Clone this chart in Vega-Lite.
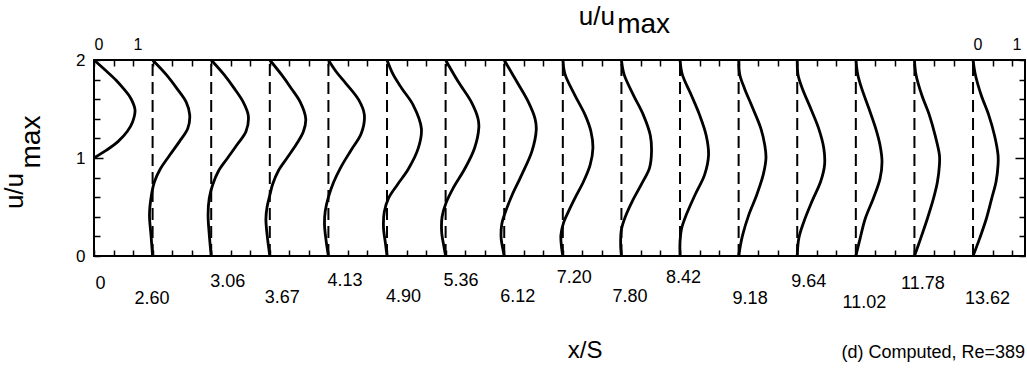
{
  "$schema": "https://vega.github.io/schema/vega-lite/v6.json",
  "width": 931,
  "height": 196,
  "autosize": {"type": "none"},
  "padding": {"left": 94, "top": 60, "right": 2, "bottom": 117},
  "background": "white",
  "config": {
    "view": {"stroke": "black", "strokeWidth": 2},
    "axis": {"domain": false, "grid": false, "tickColor": "black", "tickWidth": 1.5, "labelColor": "black", "labelFont": "Liberation Sans", "labelOverlap": false, "labelFlush": false},
    "text": {"font": "Liberation Sans", "color": "black"}
  },
  "resolve": {"axis": {"x": "independent", "y": "independent"}},
  "layer": [
    {
      "data": {"values": [{"s":1},{"s":2},{"s":3},{"s":4},{"s":5},{"s":6},{"s":7},{"s":8},{"s":9},{"s":10},{"s":11},{"s":12},{"s":13},{"s":14},{"s":15}]},
      "transform": [{"calculate": "datum.s*1.5", "as": "xp"}],
      "mark": {"type": "rule", "strokeDash": [12, 6], "strokeWidth": 2, "color": "black"},
      "encoding": {
        "x": {"field": "xp", "type": "quantitative", "scale": {"domain": [0, 23.83], "nice": false, "zero": false},
          "axis": {"orient": "bottom", "title": null,
            "values": [0,0.5,1,1.5,2,2.5,3,3.5,4,4.5,5,5.5,6,6.5,7,7.5,8,8.5,9,9.5,10,10.5,11,11.5,12,12.5,13,13.5,14,14.5,15,15.5,16,16.5,17,17.5,18,18.5,19,19.5,20,20.5,21,21.5,22,22.5,23,23.5],
            "tickSize": -6, "labelAlign": "center", "labelBaseline": "middle", "labelFontSize": 18,
            "labelPadding": {"expr": "datum.value % 1.5 == 0 ? 33 + [0,15,-2,14,-3,13,-3,13,-6,13,-6,15,-2,19,0,15][datum.value/1.5] : 33"},
            "labelOffset": {"expr": "datum.value % 1.5 == 0 ? [6,-1,16,12,16,16,15,13,11,8,3,11,11,8,8,14][datum.value/1.5] : 0"},
            "labelExpr": "datum.value % 1.5 == 0 ? ['0','2.60','3.06','3.67','4.13','4.90','5.36','6.12','7.20','7.80','8.42','9.18','9.64','11.02','11.78','13.62'][datum.value/1.5] : ''"
          }},
        "y": {"datum": 0, "type": "quantitative", "scale": {"domain": [0, 2], "nice": false, "zero": false},
          "axis": {"orient": "left", "title": null, "values": [0,0.2,0.4,0.6,0.8,1,1.2,1.4,1.6,1.8,2],
            "tickSize": {"expr": "datum.value == 1 ? -9 : -6"},
            "labelPadding": {"expr": "datum.value == 1 ? 18 : 15"}, "labelFontSize": 17,
            "labelExpr": "datum.value % 1 == 0 ? format(datum.value, 'd') : ''"}},
        "y2": {"datum": 2}
      }
    },
    {
      "data": {"values": [
        {"s":0,"y":2.0,"u":0},{"s":0,"y":1.9,"u":0.28},{"s":0,"y":1.796,"u":0.56},{"s":0,"y":1.71,"u":0.75},{"s":0,"y":1.61,"u":0.94},{"s":0,"y":1.49,"u":1.05},{"s":0,"y":1.37,"u":0.99},{"s":0,"y":1.27,"u":0.85},{"s":0,"y":1.17,"u":0.62},{"s":0,"y":1.08,"u":0.32},{"s":0,"y":1.0,"u":0},
        {"s":1,"y":2.0,"u":0},{"s":1,"y":1.85,"u":0.35},{"s":1,"y":1.71,"u":0.62},{"s":1,"y":1.57,"u":0.86},{"s":1,"y":1.44,"u":0.95},{"s":1,"y":1.30,"u":0.90},{"s":1,"y":1.17,"u":0.69},{"s":1,"y":1.03,"u":0.44},{"s":1,"y":0.89,"u":0.20},{"s":1,"y":0.76,"u":0.05},{"s":1,"y":0.62,"u":-0.03},{"s":1,"y":0.42,"u":-0.08},{"s":1,"y":0.21,"u":-0.04},{"s":1,"y":0,"u":0},
        {"s":2,"y":2.0,"u":0},{"s":2,"y":1.85,"u":0.33},{"s":2,"y":1.71,"u":0.59},{"s":2,"y":1.57,"u":0.82},{"s":2,"y":1.43,"u":0.95},{"s":2,"y":1.27,"u":0.89},{"s":2,"y":1.14,"u":0.67},{"s":2,"y":1.0,"u":0.42},{"s":2,"y":0.87,"u":0.19},{"s":2,"y":0.73,"u":0.04},{"s":2,"y":0.59,"u":-0.05},{"s":2,"y":0.42,"u":-0.08},{"s":2,"y":0.22,"u":-0.05},{"s":2,"y":0,"u":0},
        {"s":3,"y":2.0,"u":0},{"s":3,"y":1.85,"u":0.30},{"s":3,"y":1.71,"u":0.55},{"s":3,"y":1.57,"u":0.78},{"s":3,"y":1.40,"u":0.92},{"s":3,"y":1.27,"u":0.86},{"s":3,"y":1.14,"u":0.68},{"s":3,"y":1.0,"u":0.44},{"s":3,"y":0.87,"u":0.22},{"s":3,"y":0.73,"u":0.07},{"s":3,"y":0.62,"u":0},{"s":3,"y":0.5,"u":-0.07},{"s":3,"y":0.38,"u":-0.10},{"s":3,"y":0.22,"u":-0.07},{"s":3,"y":0,"u":0},
        {"s":4,"y":2.0,"u":0},{"s":4,"y":1.88,"u":0.20},{"s":4,"y":1.76,"u":0.45},{"s":4,"y":1.59,"u":0.78},{"s":4,"y":1.44,"u":0.92},{"s":4,"y":1.25,"u":0.84},{"s":4,"y":1.08,"u":0.58},{"s":4,"y":0.90,"u":0.31},{"s":4,"y":0.75,"u":0.13},{"s":4,"y":0.60,"u":0.0},{"s":4,"y":0.46,"u":-0.08},{"s":4,"y":0.32,"u":-0.10},{"s":4,"y":0.16,"u":-0.06},{"s":4,"y":0,"u":0},
        {"s":5,"y":2.0,"u":0},{"s":5,"y":1.85,"u":0.16},{"s":5,"y":1.71,"u":0.38},{"s":5,"y":1.54,"u":0.67},{"s":5,"y":1.30,"u":0.88},{"s":5,"y":1.10,"u":0.80},{"s":5,"y":0.89,"u":0.55},{"s":5,"y":0.73,"u":0.27},{"s":5,"y":0.59,"u":0.04},{"s":5,"y":0.45,"u":-0.07},{"s":5,"y":0.29,"u":-0.09},{"s":5,"y":0.13,"u":-0.04},{"s":5,"y":0,"u":0},
        {"s":6,"y":2.0,"u":0},{"s":6,"y":1.78,"u":0.32},{"s":6,"y":1.57,"u":0.66},{"s":6,"y":1.40,"u":0.83},{"s":6,"y":1.31,"u":0.85},{"s":6,"y":1.10,"u":0.74},{"s":6,"y":0.89,"u":0.49},{"s":6,"y":0.69,"u":0.19},{"s":6,"y":0.54,"u":0.01},{"s":6,"y":0.40,"u":-0.09},{"s":6,"y":0.24,"u":-0.10},{"s":6,"y":0.09,"u":-0.04},{"s":6,"y":0,"u":0},
        {"s":7,"y":2.0,"u":0},{"s":7,"y":1.78,"u":0.32},{"s":7,"y":1.57,"u":0.62},{"s":7,"y":1.40,"u":0.79},{"s":7,"y":1.29,"u":0.82},{"s":7,"y":1.07,"u":0.71},{"s":7,"y":0.83,"u":0.45},{"s":7,"y":0.62,"u":0.20},{"s":7,"y":0.46,"u":0.04},{"s":7,"y":0.33,"u":-0.06},{"s":7,"y":0.19,"u":-0.08},{"s":7,"y":0.06,"u":-0.03},{"s":7,"y":0,"u":0},
        {"s":8,"y":2.0,"u":0},{"s":8,"y":1.85,"u":0.06},{"s":8,"y":1.64,"u":0.31},{"s":8,"y":1.44,"u":0.57},{"s":8,"y":1.27,"u":0.72},{"s":8,"y":1.10,"u":0.77},{"s":8,"y":0.93,"u":0.70},{"s":8,"y":0.76,"u":0.53},{"s":8,"y":0.59,"u":0.31},{"s":8,"y":0.45,"u":0.14},{"s":8,"y":0.34,"u":0.02},{"s":8,"y":0.21,"u":-0.05},{"s":8,"y":0.08,"u":-0.03},{"s":8,"y":0,"u":0},
        {"s":9,"y":2.0,"u":0},{"s":9,"y":1.85,"u":0.07},{"s":9,"y":1.64,"u":0.31},{"s":9,"y":1.44,"u":0.56},{"s":9,"y":1.23,"u":0.74},{"s":9,"y":1.06,"u":0.77},{"s":9,"y":0.90,"u":0.72},{"s":9,"y":0.73,"u":0.51},{"s":9,"y":0.56,"u":0.28},{"s":9,"y":0.40,"u":0.10},{"s":9,"y":0.27,"u":0.0},{"s":9,"y":0.12,"u":-0.02},{"s":9,"y":0,"u":0},
        {"s":10,"y":2.0,"u":0},{"s":10,"y":1.85,"u":0.06},{"s":10,"y":1.64,"u":0.29},{"s":10,"y":1.44,"u":0.50},{"s":10,"y":1.23,"u":0.67},{"s":10,"y":1.03,"u":0.73},{"s":10,"y":0.83,"u":0.63},{"s":10,"y":0.62,"u":0.38},{"s":10,"y":0.42,"u":0.16},{"s":10,"y":0.28,"u":0.04},{"s":10,"y":0.15,"u":0.0},{"s":10,"y":0,"u":0},
        {"s":11,"y":2.0,"u":0},{"s":11,"y":1.85,"u":0.03},{"s":11,"y":1.71,"u":0.15},{"s":11,"y":1.51,"u":0.36},{"s":11,"y":1.30,"u":0.57},{"s":11,"y":1.13,"u":0.67},{"s":11,"y":1.0,"u":0.70},{"s":11,"y":0.83,"u":0.63},{"s":11,"y":0.62,"u":0.46},{"s":11,"y":0.42,"u":0.26},{"s":11,"y":0.21,"u":0.10},{"s":11,"y":0,"u":0},
        {"s":12,"y":2.0,"u":0},{"s":12,"y":1.85,"u":0.02},{"s":12,"y":1.71,"u":0.13},{"s":12,"y":1.51,"u":0.34},{"s":12,"y":1.30,"u":0.55},{"s":12,"y":1.10,"u":0.68},{"s":12,"y":0.93,"u":0.70},{"s":12,"y":0.76,"u":0.60},{"s":12,"y":0.56,"u":0.38},{"s":12,"y":0.35,"u":0.17},{"s":12,"y":0.18,"u":0.04},{"s":12,"y":0,"u":0},
        {"s":13,"y":2.0,"u":0},{"s":13,"y":1.85,"u":0.05},{"s":13,"y":1.71,"u":0.15},{"s":13,"y":1.51,"u":0.33},{"s":13,"y":1.30,"u":0.51},{"s":13,"y":1.13,"u":0.62},{"s":13,"y":0.96,"u":0.67},{"s":13,"y":0.79,"u":0.62},{"s":13,"y":0.59,"u":0.45},{"s":13,"y":0.38,"u":0.24},{"s":13,"y":0.18,"u":0.11},{"s":13,"y":0,"u":0},
        {"s":14,"y":2.0,"u":0},{"s":14,"y":1.85,"u":0.04},{"s":14,"y":1.64,"u":0.19},{"s":14,"y":1.44,"u":0.38},{"s":14,"y":1.23,"u":0.53},{"s":14,"y":1.03,"u":0.64},{"s":14,"y":0.93,"u":0.64},{"s":14,"y":0.76,"u":0.59},{"s":14,"y":0.59,"u":0.49},{"s":14,"y":0.38,"u":0.33},{"s":14,"y":0.18,"u":0.16},{"s":14,"y":0,"u":0},
        {"s":15,"y":2.0,"u":0},{"s":15,"y":1.85,"u":0.06},{"s":15,"y":1.64,"u":0.21},{"s":15,"y":1.44,"u":0.40},{"s":15,"y":1.23,"u":0.55},{"s":15,"y":1.03,"u":0.64},{"s":15,"y":0.93,"u":0.64},{"s":15,"y":0.76,"u":0.59},{"s":15,"y":0.59,"u":0.48},{"s":15,"y":0.38,"u":0.34},{"s":15,"y":0.18,"u":0.17},{"s":15,"y":0,"u":0}
      ]},
      "transform": [{"calculate": "datum.s*1.5+datum.u", "as": "xp"}],
      "mark": {"type": "line", "interpolate": "catmull-rom", "strokeWidth": 2.8, "color": "black"},
      "encoding": {
        "x": {"field": "xp", "type": "quantitative",
          "axis": {"orient": "top", "title": null,
            "values": [0,0.5,1,1.5,2,2.5,3,3.5,4,4.5,5,5.5,6,6.5,7,7.5,8,8.5,9,9.5,10,10.5,11,11.5,12,12.5,13,13.5,14,14.5,15,15.5,16,16.5,17,17.5,18,18.5,19,19.5,20,20.5,21,21.5,22,22.5,23,23.5],
            "tickSize": -6, "labelPadding": 14, "labelAlign": "left", "labelFontSize": 16,
            "labelExpr": "(datum.value == 0 || datum.value == 22.5) ? '0' : (datum.value == 1 || datum.value == 23.5) ? '1' : ''"}},
        "y": {"field": "y", "type": "quantitative",
          "axis": {"orient": "right", "title": null, "values": [0,0.2,0.4,0.6,0.8,1,1.2,1.4,1.6,1.8,2], "tickSize": {"expr": "datum.value == 1 ? -10 : -6"}, "labels": false}},
        "detail": {"field": "s"},
        "order": {"field": "y", "sort": "descending"}
      }
    },
    {
      "data": {"values": [{}]},
      "mark": {"type": "text", "text": "u/u", "fontSize": 26, "align": "center", "baseline": "alphabetic"},
      "encoding": {"x": {"datum": 12.87, "type": "quantitative", "axis": null}, "y": {"datum": 2.357, "type": "quantitative", "axis": null}}
    },
    {
      "data": {"values": [{}]},
      "mark": {"type": "text", "text": "max", "fontSize": 28, "align": "left", "baseline": "alphabetic"},
      "encoding": {"x": {"datum": 13.39, "type": "quantitative", "axis": null}, "y": {"datum": 2.276, "type": "quantitative", "axis": null}}
    },
    {
      "data": {"values": [{}]},
      "mark": {"type": "text", "text": "u/u", "fontSize": 26, "align": "center", "baseline": "alphabetic", "angle": 270},
      "encoding": {"x": {"datum": -1.817, "type": "quantitative", "axis": null}, "y": {"datum": 0.663, "type": "quantitative", "axis": null}}
    },
    {
      "data": {"values": [{}]},
      "mark": {"type": "text", "text": "max", "fontSize": 28, "align": "center", "baseline": "alphabetic", "angle": 270},
      "encoding": {"x": {"datum": -1.382, "type": "quantitative", "axis": null}, "y": {"datum": 1.163, "type": "quantitative", "axis": null}}
    },
    {
      "data": {"values": [{}]},
      "mark": {"type": "text", "text": "x/S", "fontSize": 24, "align": "center", "baseline": "alphabetic"},
      "encoding": {"x": {"datum": 12.57, "type": "quantitative", "axis": null}, "y": {"datum": -1.04, "type": "quantitative", "axis": null}}
    },
    {
      "data": {"values": [{}]},
      "mark": {"type": "text", "text": "(d) Computed, Re=389", "fontSize": 18, "align": "right", "baseline": "alphabetic"},
      "encoding": {"x": {"datum": 23.83, "type": "quantitative", "axis": null}, "y": {"datum": -1.04, "type": "quantitative", "axis": null}}
    }
  ]
}
